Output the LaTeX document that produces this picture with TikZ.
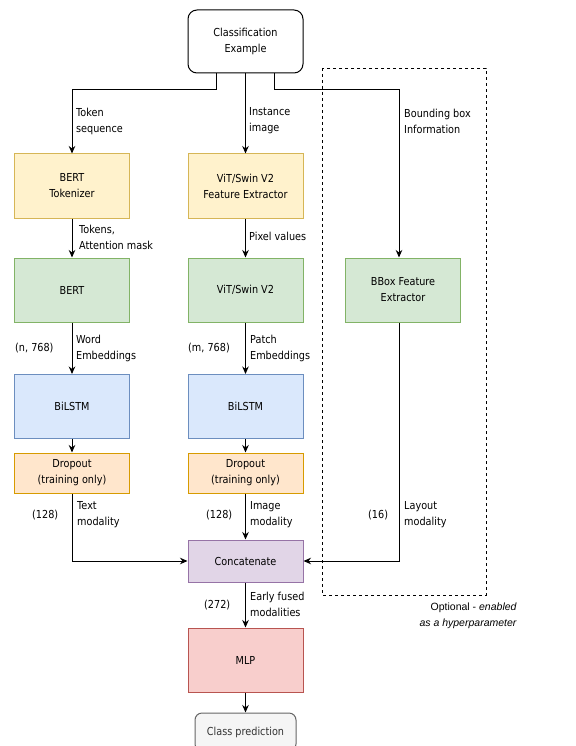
\documentclass[tikz,border=0pt]{standalone}
\usepackage{fontspec}
\setmainfont{DejaVu Sans}[FakeStretch=0.88]
\newfontfamily\optfont{Liberation Sans}
\usetikzlibrary{arrows.meta,calc}
\definecolor{yfill}{HTML}{FFF2CC}\definecolor{ydraw}{HTML}{D6B656}
\definecolor{gfill}{HTML}{D5E8D4}\definecolor{gdraw}{HTML}{82B366}
\definecolor{bfill}{HTML}{DAE8FC}\definecolor{bdraw}{HTML}{6C8EBF}
\definecolor{ofill}{HTML}{FFE6CC}\definecolor{odraw}{HTML}{D79B00}
\definecolor{pfill}{HTML}{E1D5E7}\definecolor{pdraw}{HTML}{9673A6}
\definecolor{rfill}{HTML}{F8CECC}\definecolor{rdraw}{HTML}{B85450}
\definecolor{cfill}{HTML}{F5F5F5}\definecolor{cdraw}{HTML}{666666}
\begin{document}
\begin{tikzpicture}[x=1pt,y=-1pt,
  every node/.style={font=\fontsize{11}{16}\selectfont, inner sep=0pt},
  blk/.style={draw, line width=1pt, minimum width=115pt, minimum height=64pt, align=center},
  ybox/.style={blk, fill=yfill, draw=ydraw},
  gbox/.style={blk, fill=gfill, draw=gdraw},
  bbox/.style={blk, fill=bfill, draw=bdraw},
  obox/.style={blk, fill=ofill, draw=odraw, minimum height=40pt},
  pbox/.style={blk, fill=pfill, draw=pdraw, minimum height=42pt},
  rbox/.style={blk, fill=rfill, draw=rdraw},
  lbl/.style={anchor=west, align=left},
  arr/.style={draw, line width=1pt, -{Stealth[length=7.5pt,width=6.5pt]}},
  ln/.style={draw, line width=1pt}
]
\useasboundingbox (0,0) rectangle (575,746);
\fill[white] (0,0) rectangle (575,746);

% dashed optional region
\draw[line width=0.8pt, dash pattern=on 3pt off 3pt] (322,68) rectangle (486,595);

\node[blk, draw=black, fill=white, rounded corners=9pt, minimum width=115pt, minimum height=63pt] (ce) at (245.5,41.5) {Classification\\Example};

\node[ybox] (tok) at (72,186) {BERT\\Tokenizer};
\node[ybox] (fe) at (245.5,186) {ViT/Swin V2\\Feature Extractor};

\node[gbox] (bert) at (72,290) {BERT};
\node[gbox] (vit) at (245.5,290) {ViT/Swin V2};
\node[gbox] (bb) at (403,290) {BBox Feature\\Extractor};

\node[bbox] (bil1) at (72,406.5) {BiLSTM};
\node[bbox] (bil2) at (245.5,406.5) {BiLSTM};

\node[obox] (dr1) at (72,473) {Dropout\\(training only)};
\node[obox] (dr2) at (245.5,473) {Dropout\\(training only)};

\node[pbox] (cat) at (245.5,561) {Concatenate};
\node[rbox] (mlp) at (245.5,660) {MLP};
\node[blk, fill=cfill, draw=cdraw, text=black!80, rounded corners=7pt, minimum width=101pt, minimum height=38pt] (cls) at (245.5,732) {Class prediction};

% connectors
\draw[arr] ([xshift=-29.5pt]ce.south) -- ++(0,16) -| (tok.north);
\draw[arr] (ce.south) -- (fe.north);
\draw[arr] ([xshift=28.5pt]ce.south) -- ++(0,16) -| ([xshift=-4pt]bb.north);
\draw[arr] (tok.south) -- (bert.north);
\draw[arr] (fe.south) -- (vit.north);
\draw[arr] (bert.south) -- (bil1.north);
\draw[arr] (vit.south) -- (bil2.north);
\draw[arr] (bil1.south) -- (dr1.north);
\draw[arr] (bil2.south) -- (dr2.north);
\draw[arr] (dr1.south) |- (cat.west);
\draw[arr] (dr2.south) -- (cat.north);
\draw[arr] ([xshift=-4pt]bb.south) |- (cat.east);
\draw[arr] (cat.south) -- (mlp.north);
\draw[arr] (mlp.south) -- (cls.north);

% labels
\node[lbl] (l1) at (76,121) {Token\\sequence};
\node[lbl] (l2) at (249,121) {Instance\\image};
\node[lbl] (l3) at (404,121) {Bounding box\\Information};
\node[lbl] (l4) at (79,237.5) {Tokens,\\Attention mask};
\node[lbl, fill=white, inner xsep=1pt] (l5) at (248,236) {Pixel values};
\node[lbl] (l6) at (15,348) {(n, 768)};
\node[lbl] (l7) at (76,348.5) {Word\\Embeddings};
\node[lbl] (l8) at (188,348) {(m, 768)};
\node[lbl] (l9) at (250,348.5) {Patch\\Embeddings};
\node[lbl] (l10) at (32,515) {(128)};
\node[lbl] (l11) at (77,515) {Text\\modality};
\node[lbl] (l12) at (206,515) {(128)};
\node[lbl] (l13) at (250,515) {Image\\modality};
\node[lbl] (l14) at (368,515) {(16)};
\node[lbl] (l15) at (404,515) {Layout\\modality};
\node[lbl] (l16) at (204,605) {(272)};
\node[lbl] (l17) at (250,604.5) {Early fused\\modalities};
\node[anchor=east, align=right, font=\optfont\fontsize{10.5}{16}\selectfont] (opt) at (517,616) {Optional - \textit{enabled}\\\textit{as a hyperparameter}};
\end{tikzpicture}
\end{document}
